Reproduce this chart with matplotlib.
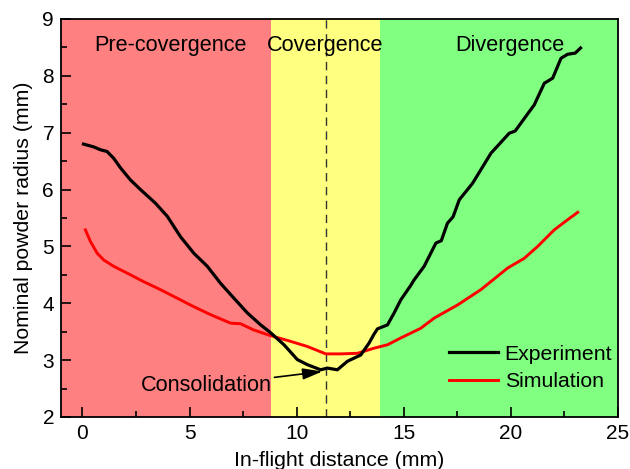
import matplotlib
matplotlib.use("Agg")
import matplotlib.pyplot as plt
from matplotlib.ticker import MultipleLocator

plt.rcParams['font.family'] = ['Liberation Sans', 'DejaVu Sans']

# Experiment (black)
exp_x = [0.05, 0.53, 0.84, 1.15, 1.46, 1.78, 2.24, 2.71, 3.41, 3.96, 4.58, 5.20, 5.83, 6.45,
         7.07, 7.70, 8.32, 8.79, 9.41, 10.03, 10.50, 11.12, 11.43, 11.90, 12.37, 12.99,
         13.38, 13.60, 13.77, 14.24, 14.55, 14.86, 15.30, 15.48, 15.95, 16.50, 16.75,
         17.04, 17.30, 17.59, 18.21, 19.07, 19.92, 20.20, 20.47, 21.09, 21.56, 21.95,
         22.34, 22.65, 23.00, 23.25]
exp_y = [6.80, 6.75, 6.70, 6.67, 6.55, 6.38, 6.17, 6.00, 5.76, 5.53, 5.17, 4.88, 4.65, 4.35,
         4.09, 3.83, 3.62, 3.48, 3.27, 3.01, 2.92, 2.83, 2.86, 2.83, 2.98, 3.09,
         3.30, 3.45, 3.55, 3.62, 3.83, 4.06, 4.30, 4.41, 4.65, 5.06, 5.10,
         5.41, 5.52, 5.82, 6.11, 6.64, 6.99, 7.03, 7.17, 7.49, 7.87, 7.96,
         8.31, 8.38, 8.40, 8.49]

# Simulation (red)
sim_x = [0.14, 0.37, 0.69, 1.00, 1.46, 2.09, 2.86, 3.64, 4.42, 5.20, 5.98, 6.92, 7.38,
         8.00, 8.79, 9.72, 10.50, 11.36, 12.06, 12.84, 13.61, 14.24, 14.86, 15.79,
         16.42, 17.51, 18.60, 19.85, 20.62, 21.25, 22.02, 22.65, 23.12]
sim_y = [5.29, 5.09, 4.88, 4.76, 4.65, 4.53, 4.38, 4.24, 4.09, 3.94, 3.80, 3.65, 3.64,
         3.53, 3.43, 3.33, 3.24, 3.11, 3.11, 3.12, 3.21, 3.27, 3.39, 3.56,
         3.74, 3.97, 4.24, 4.62, 4.79, 5.00, 5.29, 5.47, 5.60]

region_edges = [-1, 8.8, 13.9, 25]
region_colors = ['#FF8080', '#FFFF80', '#80FF80']
region_names = ['Pre-covergence', 'Covergence', 'Divergence']
region_label_x = [4.1, 11.35, 19.95]
consolidation_x = 11.35

fig = plt.figure(figsize=(6.3, 4.69), dpi=100)
ax = fig.add_axes([0.0968, 0.1109, 0.8842, 0.8486])

for i in range(3):
    ax.axvspan(region_edges[i], region_edges[i + 1], color=region_colors[i], lw=0, zorder=0)
    ax.text(region_label_x[i], 8.54, region_names[i], ha='center', va='center', fontsize=15.6)

ax.axvline(consolidation_x, color='#333333', lw=1.0, ls=(0, (6, 4)), zorder=1)

ax.plot(exp_x, exp_y, color='black', lw=2.3, label='Experiment', zorder=3)
ax.plot(sim_x, sim_y, color='red', lw=2.1, label='Simulation', zorder=2)

ax.annotate('Consolidation', xy=(11.2, 2.80), xytext=(8.83, 2.55),
            ha='right', va='center', fontsize=15.6,
            arrowprops=dict(arrowstyle='-|>,head_length=0.7,head_width=0.2',
                            color='black', lw=1.2,
                            mutation_scale=17, shrinkA=0, shrinkB=0))

ax.set_xlim(-1, 25)
ax.set_ylim(2, 9)
ax.xaxis.set_major_locator(MultipleLocator(5))
ax.xaxis.set_minor_locator(MultipleLocator(2.5))
ax.yaxis.set_major_locator(MultipleLocator(1))
ax.yaxis.set_minor_locator(MultipleLocator(0.5))
ax.tick_params(which='major', direction='in', length=7, width=1.2, labelsize=15, pad=5)
ax.tick_params(which='minor', direction='in', length=4, width=1.2)
for s in ax.spines.values():
    s.set_linewidth(1.3)

ax.set_xlabel('In-flight distance (mm)', fontsize=15.3, labelpad=6)
ax.set_ylabel('Nominal powder radius (mm)', fontsize=15.3, labelpad=7)

ax.legend(loc='lower right', bbox_to_anchor=(1.024, 0.017), frameon=False, fontsize=15.3,
          handlelength=2.3, handletextpad=0.3, labelspacing=0.4)

fig.savefig('out.png', dpi=100)
